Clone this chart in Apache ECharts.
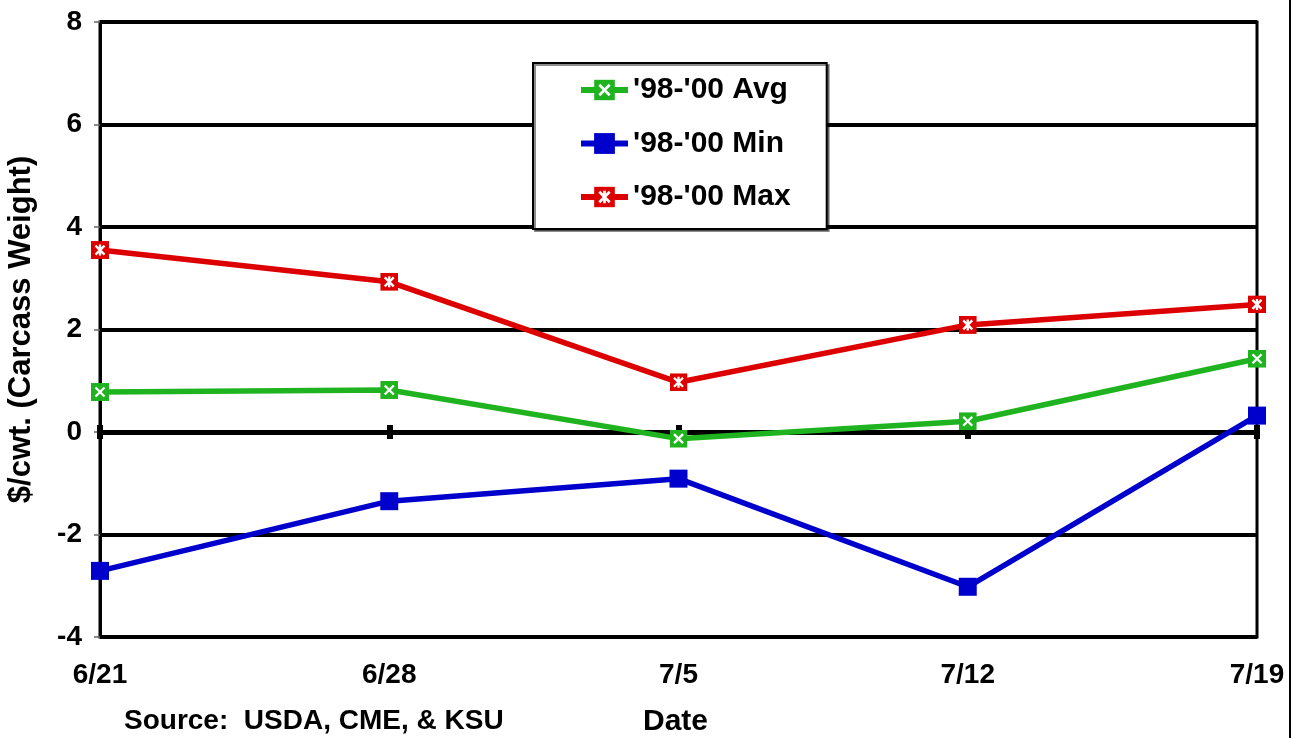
<!DOCTYPE html>
<html>
<head>
<meta charset="utf-8">
<script src="https://cdn.jsdelivr.net/npm/echarts@6/dist/echarts.min.js"></script>
<style>
html,body{margin:0;padding:0;background:#fff;}
#chart{width:1296px;height:738px;}
</style>
</head>
<body>
<div id="chart"></div>
<script>
const categories = ['6/21', '6/28', '7/5', '7/12', '7/19'];
const avgValues = [0.78, 0.82, -0.13, 0.21, 1.43];
const minValues = [-2.71, -1.35, -0.91, -3.02, 0.32];
const maxValues = [3.55, 2.93, 0.97, 2.09, 2.49];
const yTicks = { min: -4, max: 8, interval: 2 };
const seriesNames = ["'98-'00 Avg", "'98-'00 Min", "'98-'00 Max"];

const GREEN = '#1fb41f', BLUE = '#0000cc', RED = '#dd0000';
const FONT = "'Liberation Sans', Arial, Helvetica, sans-serif";

function svgSymbol(color, star) {
  const svg = "<svg xmlns='http://www.w3.org/2000/svg' width='36' height='36' viewBox='0 0 18 18'>" +
    "<rect width='18' height='18' fill='" + color + "'/>" +
    "<path d='M4.5 4.5L13.5 13.5M13.5 4.5L4.5 13.5" + (star ? "M9 3.5V14.5" : "") +
    "' stroke='#fff' stroke-width='2.3' fill='none'/></svg>";
  return 'data:image/svg+xml;charset=utf-8,' + encodeURIComponent(svg);
}
const avgSym = svgSymbol(GREEN, false);
const maxSym = svgSymbol(RED, true);

function preload(srcs, cb) {
  let n = srcs.length;
  srcs.forEach(s => { const im = new Image(); im.onload = im.onerror = () => { if (--n === 0) cb(); }; im.src = s; });
}

preload([avgSym, maxSym], function () {
  const chart = echarts.init(document.getElementById('chart'), null, { renderer: 'canvas' });
  const catAxisBase = { type: 'category', data: categories, boundaryGap: false };
  chart.setOption({
    animation: false,
    backgroundColor: '#fff',
    textStyle: { fontFamily: FONT },
    grid: { left: 100, right: 39, top: 22, bottom: 101, containLabel: false, outerBoundsMode: 'none',
      show: true, borderColor: '#000', borderWidth: 3, backgroundColor: 'transparent' },
    legend: {
      orient: 'vertical', left: 533, top: 63,
      padding: [12, 36, 17, 45], itemGap: 23.5, itemWidth: 47, itemHeight: 26,
      backgroundColor: '#fff', borderColor: '#000', borderWidth: 2,
      shadowColor: 'rgba(0,0,0,0.45)', shadowOffsetX: 2, shadowOffsetY: 2, shadowBlur: 0,
      lineStyle: { width: 6 },
      textStyle: { fontSize: 30, fontWeight: 'bold', color: '#000', fontFamily: FONT },
      data: seriesNames
    },
    xAxis: [
      Object.assign({}, catAxisBase, {
        position: 'bottom',
        axisLine: { show: false, onZero: false },
        axisTick: { show: false },
        splitLine: { show: false },
        axisLabel: { interval: 0, margin: 24, fontSize: 28, fontWeight: 'bold', color: '#000', fontFamily: FONT }
      }),
      Object.assign({}, catAxisBase, {
        position: 'top',
        axisLine: { show: true, onZero: true, onZeroAxisIndex: 0, lineStyle: { color: '#000', width: 5 } },
        axisTick: { show: true, inside: true, interval: 0, length: 7, lineStyle: { color: '#000', width: 6 } },
        axisLabel: { show: false },
        splitLine: { show: false }
      }),
      Object.assign({}, catAxisBase, {
        position: 'top',
        axisLine: { show: true, onZero: true, onZeroAxisIndex: 0, lineStyle: { color: '#000', width: 5 } },
        axisTick: { show: true, inside: false, interval: 0, length: 7, lineStyle: { color: '#000', width: 6 } },
        axisLabel: { show: false },
        splitLine: { show: false }
      })
    ],
    yAxis: {
      type: 'value', min: yTicks.min, max: yTicks.max, interval: yTicks.interval,
      name: '$/cwt. (Carcass Weight)', nameLocation: 'middle', nameGap: 63, nameRotate: 90,
      nameMoveOverlap: false,
      nameTextStyle: { fontSize: 31, fontWeight: 'bold', color: '#000', fontFamily: FONT },
      axisLine: { show: true, lineStyle: { color: '#000', width: 3 } },
      axisTick: { show: true, length: 6, lineStyle: { color: '#666', width: 1.5 } },
      axisLabel: { margin: 18, fontSize: 28, fontWeight: 'bold', color: '#000', fontFamily: FONT },
      splitLine: { show: true, lineStyle: { color: '#000', width: 4 } }
    },
    series: [
      { name: seriesNames[0], type: 'line', data: avgValues, xAxisIndex: 0,
        symbol: 'image://' + avgSym, symbolSize: 18, showAllSymbol: true,
        itemStyle: { color: GREEN }, lineStyle: { color: GREEN, width: 5.5 }, z: 3 },
      { name: seriesNames[1], type: 'line', data: minValues, xAxisIndex: 0,
        symbol: 'rect', symbolSize: 18, showAllSymbol: true,
        itemStyle: { color: BLUE }, lineStyle: { color: BLUE, width: 5.5 }, z: 3 },
      { name: seriesNames[2], type: 'line', data: maxValues, xAxisIndex: 0,
        symbol: 'image://' + maxSym, symbolSize: 18, showAllSymbol: true,
        itemStyle: { color: RED }, lineStyle: { color: RED, width: 5.5 }, z: 3 }
    ],
    graphic: [
      { type: 'line', shape: { x1: 1290, y1: 0, x2: 1290, y2: 738 }, style: { stroke: '#000', lineWidth: 2 } },
      { type: 'text', left: 124, top: 707, style: { text: 'Source:  USDA, CME, & KSU', font: 'bold 28px ' + FONT, fill: '#000' } },
      { type: 'text', left: 643, top: 707, style: { text: 'Date', font: 'bold 30px ' + FONT, fill: '#000' } }
    ]
  });
});
</script>
</body>
</html>
